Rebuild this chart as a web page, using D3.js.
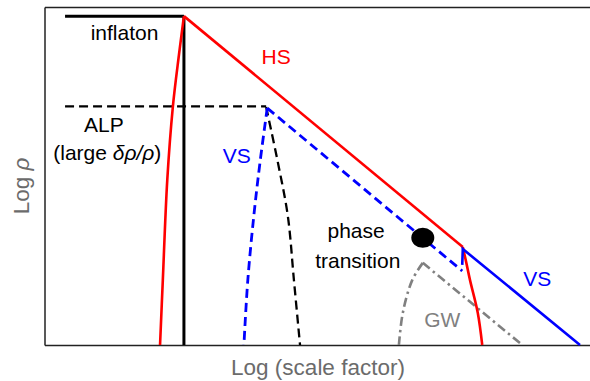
<!DOCTYPE html>
<html>
<head>
<meta charset="utf-8">
<script src="https://cdn.jsdelivr.net/npm/d3@7"></script>
<style>
  body { margin: 0; background: #fff; }
  svg { display: block; font-family: "Liberation Sans", Arial, sans-serif; }
</style>
</head>
<body>
<div id="chart"></div>
<script>
// curves in arbitrary log units: x = log(scale factor), y = log rho (0..100)
const inflatonFlat = [[3.7, 97.3], [25.1, 97.3]];
const inflatonDrop = [[25.1, 97.3], [25.1, 0]];
const hsLine = [[25.1, 97.3], [75.3, 29.0]];
const hsLeft = [[25.1, 97.3], [24.2, 85.8], [23.1, 70.4], [22.1, 48.8], [21.3, 19.2], [20.8, 0]];
const hsRight = [[75.3, 29.0], [75.9, 24.6], [76.6, 19.2], [78.0, 9.5], [78.8, 0]];
const vsSolid = [[75.2, 23.7], [75.3, 28.4], [96.4, 0]];
const alpFlat = [[3.7, 70.6], [39.9, 70.6]];
const alpDecay = [[39.9, 70.4], [42.0, 54.1], [43.8, 38.2], [44.9, 19.2], [46.0, 0]];
const vsDashLeft = [[40.1, 70.1], [38.8, 54.1], [37.7, 38.5], [36.6, 19.2], [35.9, 0]];
const vsDashDiag = [[40.1, 70.1], [75.2, 21.9]];
const gwLeft = [[68.1, 24.3], [66.2, 19.2], [64.5, 9.5], [63.8, 0]];
const gwRight = [[68.1, 24.3], [86.0, 0]];
const phaseDot = [68.1, 31.7];

const labelText = ["inflaton", "HS", "ALP", "VS", "phase", "transition", "VS", "GW"];
const labelPos = [[14.4, 90.2], [41.7, 83.1], [10.7, 63.0], [34.6, 53.8], [56.1, 31.7], [56.4, 22.8], [88.7, 17.5], [71.6, 5.3]];
const labelKind = ["black", "red", "black", "blue", "black", "black", "blue", "grey"];

const width = 590, height = 381;
const svg = d3.select("#chart").append("svg")
  .attr("width", width)
  .attr("height", height);

const x = d3.scaleLinear().domain([0, 100]).range([44.5, 600]);
const y = d3.scaleLinear().domain([0, 100]).range([345, 7]);

const colors = { black: "#000", red: "#ff0000", blue: "#0000ff", grey: "#808080" };

// frame: left, top, bottom (no right edge visible)
const frame = svg.append("g");
frame.append("g").attr("transform", `translate(0,${y(0)})`)
  .call(d3.axisBottom(x).ticks(0).tickSizeOuter(0));
frame.append("g").attr("transform", `translate(0,${y(100)})`)
  .call(d3.axisTop(x).ticks(0).tickSizeOuter(0));
frame.append("g").attr("transform", `translate(${x(0)},0)`)
  .call(d3.axisLeft(y).ticks(0).tickSizeOuter(0));
frame.selectAll(".domain").attr("stroke", "#222").attr("stroke-width", 1.5);

const straight = d3.line().x(d => x(d[0])).y(d => y(d[1]));
const smooth = d3.line().x(d => x(d[0])).y(d => y(d[1])).curve(d3.curveCatmullRom.alpha(0.5));

function draw(pts, gen, color, w, dash) {
  const p = svg.append("path")
    .attr("d", gen(pts))
    .attr("fill", "none")
    .attr("stroke", color)
    .attr("stroke-width", w)
    .attr("stroke-linejoin", "miter");
  if (dash) p.attr("stroke-dasharray", dash);
  return p;
}

// GW (grey dash-dot)
draw(gwLeft, smooth, colors.grey, 2.6, "9,4,2.5,4");
draw(gwRight, straight, colors.grey, 2.6, "9,4,2.5,4");

// ALP (black dashed) and its visible sector (blue dashed)
draw(alpFlat, straight, colors.black, 2.3, "9,5");
draw(alpDecay, smooth, colors.black, 2.3, "9,5");
draw(vsDashLeft, smooth, colors.blue, 2.8, "9,5");
draw(vsDashDiag, straight, colors.blue, 2.8, "9,5");

// inflaton
draw(inflatonFlat, straight, colors.black, 3, null);
draw(inflatonDrop, straight, colors.black, 3, null);

// hidden sector
draw(hsLeft, smooth, colors.red, 2.6, null);
draw(hsLine, straight, colors.red, 2.6, null);
draw(hsRight, smooth, colors.red, 2.6, null);

// visible sector after transition
draw(vsSolid, straight, colors.blue, 2.6, null);

svg.append("ellipse")
  .attr("cx", x(phaseDot[0]))
  .attr("cy", y(phaseDot[1]))
  .attr("rx", 11.5)
  .attr("ry", 10)
  .attr("fill", "#000");

// labels
labelText.forEach((t, i) => {
  svg.append("text")
    .attr("x", x(labelPos[i][0]))
    .attr("y", y(labelPos[i][1]))
    .attr("text-anchor", "middle")
    .attr("fill", colors[labelKind[i]])
    .style("font-size", "21px")
    .text(t);
});

const sub = svg.append("text")
  .attr("x", x(11.3))
  .attr("y", y(54.7))
  .attr("text-anchor", "middle")
  .style("font-size", "21px");
sub.append("tspan").text("(large ");
sub.append("tspan").style("font-style", "italic").text("δρ/ρ");
sub.append("tspan").text(")");

// axis titles
svg.append("text")
  .attr("x", 318)
  .attr("y", 375)
  .attr("text-anchor", "middle")
  .attr("fill", "#6b6b6b")
  .style("font-size", "22.5px")
  .text("Log (scale factor)");

const yl = svg.append("text")
  .attr("transform", "translate(29,186) rotate(-90)")
  .attr("text-anchor", "middle")
  .attr("fill", "#6b6b6b")
  .style("font-size", "22.5px");
yl.append("tspan").text("Log ");
yl.append("tspan").style("font-style", "italic").text("ρ");
</script>
</body>
</html>
